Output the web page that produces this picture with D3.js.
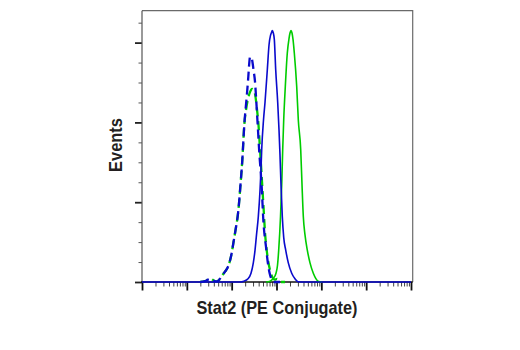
<!DOCTYPE html>
<html>
<head>
<meta charset="utf-8">
<script src="https://cdn.jsdelivr.net/npm/d3@7"></script>
<style>
  body { margin: 0; background: #fff; }
  svg { display: block; }
</style>
</head>
<body>
<svg id="chart" width="520" height="350"></svg>
<script>
// Axis settings
const xDomain = [1, 1e6];
const yDomain = [0, 340];
const yMajorTicks = [0, 100, 200, 300];
const yMinorTicks = [25, 50, 75, 125, 150, 175, 225, 250, 275, 325];
const xLabel = "Stat2 (PE Conjugate)";
const yLabel = "Events";

// Histograms: [fluorescence intensity, events]
// Isotype control, untreated (blue dashed)
const blueDashed = [
  [20, 0], [25.4, 1], [29.7, 3], [34.6, 4], [39.4, 2], [44.7, 0.6], [52.2, 2.5],
  [60.9, 8], [71, 13], [84.1, 20], [99.2, 35], [109.9, 50], [121.8, 65],
  [140.6, 89], [157.4, 122], [172.8, 153], [191.4, 197], [216.5, 232],
  [235, 257], [247.4, 275], [256.5, 282], [274.2, 282], [288.6, 277],
  [306.9, 266], [331.6, 251], [358.1, 222], [377, 201], [413.6, 162],
  [467.8, 119], [507.8, 78], [583.3, 44], [656.7, 20], [716.6, 9],
  [781.8, 3], [879.9, 0], [1197, 0]
];
// Isotype control, treated (green dashed)
const greenDashed = [
  [20, 0], [25.4, 1], [29.7, 3], [34.6, 4], [39.4, 2], [44.7, 0.6], [52.2, 2.5],
  [60.9, 8], [71, 13], [84.1, 20], [99.2, 35], [109.9, 50], [121.8, 65],
  [140.6, 89], [157.4, 122], [172.8, 153], [191.4, 197], [212.1, 218],
  [235, 231], [256.5, 238], [284.2, 242], [315, 240], [340.3, 232],
  [367.5, 216], [396.9, 197], [428.6, 166], [458.3, 141], [487.5, 115],
  [518.4, 90], [554.1, 62], [604.6, 40], [656.7, 25], [716.6, 15],
  [781.8, 8], [848.9, 4], [926.3, 3], [1026, 4], [1137, 2], [1260, 0], [1548, 0]
];
// Stat2, untreated (blue solid)
const blueSolid = [
  [1, 0], [150, 0], [188, 1], [231, 4], [270, 11], [304, 24], [332, 40],
  [358, 59], [393, 82], [429, 115], [451, 141], [468, 166], [513, 203],
  [554, 225], [624, 266], [681, 297], [735, 309], [766, 312], [806, 315],
  [849, 312], [894, 304], [960, 266], [1064, 225], [1137, 191], [1197, 159],
  [1260, 122], [1347, 82], [1448, 56], [1605, 40], [1834, 24], [2184, 11],
  [2587, 4], [3018, 0.4], [4323, 0], [1e6, 0]
];
// Stat2, treated (green solid)
const greenSolid = [
  [584, 0], [717, 1], [836, 4], [975, 11], [1053, 21], [1120, 40], [1229, 82],
  [1307, 122], [1376, 166], [1448, 203], [1572, 245], [1742, 287], [1901, 305],
  [2001, 312], [2107, 315], [2218, 312], [2335, 304], [2496, 287], [2823, 245],
  [3065, 203], [3467, 166], [3707, 122], [3963, 82], [4323, 59], [4866, 40],
  [5589, 24], [6622, 11], [7606, 4], [8431, 1], [10354, 0]
];

const BLUE = "#0a0acc";
const GREEN = "#00cc00";

const svg = d3.select("#chart");
const plot = { left: 142, right: 411, top: 10.7, bottom: 282 };

const x = d3.scaleLog().domain(xDomain).range([plot.left, plot.right]);
const y = d3.scaleLinear().domain(yDomain).range([plot.bottom, plot.top]);

// Frame: top and right edges
svg.append("path")
  .attr("d", `M${plot.left},${plot.top}H${plot.right + 1.7}V${plot.bottom}`)
  .attr("fill", "none").attr("stroke", "#6a6a6a").attr("stroke-width", 1.2);

// Y axis: minor then major ticks, no labels
const yMinor = svg.append("g").attr("transform", `translate(${plot.left},0)`)
  .call(d3.axisLeft(y).tickValues(yMinorTicks).tickSize(3.5).tickFormat(""));
yMinor.select(".domain").remove();
yMinor.selectAll(".tick line").attr("stroke", "#555").attr("stroke-width", 1);

const yMajor = svg.append("g").attr("transform", `translate(${plot.left},0)`)
  .call(d3.axisLeft(y).tickValues(yMajorTicks).tickSize(7).tickFormat(""));
yMajor.select(".domain").remove();
yMajor.selectAll(".tick line").attr("stroke", "#222").attr("stroke-width", 1.8);

svg.append("line")
  .attr("x1", plot.left).attr("x2", plot.left)
  .attr("y1", plot.top).attr("y2", plot.bottom)
  .attr("stroke", "#555").attr("stroke-width", 1.2);

// X axis: log decades with minor ticks 2..9
const xMajorTicks = d3.range(0, 7).map(p => Math.pow(10, p));
const xMinorTicks = [];
for (let p = 0; p < 6; p++) for (let k = 2; k <= 9; k++) xMinorTicks.push(k * Math.pow(10, p));

const xMinor = svg.append("g").attr("transform", `translate(0,${plot.bottom})`)
  .call(d3.axisBottom(x).tickValues(xMinorTicks).tickSize(4.5).tickFormat(""));
xMinor.select(".domain").remove();
xMinor.selectAll(".tick line").attr("stroke", "#444").attr("stroke-width", 1);

const xMajor = svg.append("g").attr("transform", `translate(0,${plot.bottom})`)
  .call(d3.axisBottom(x).tickValues(xMajorTicks).tickSize(8.5).tickFormat(""));
xMajor.select(".domain").remove();
xMajor.selectAll(".tick line").attr("stroke", "#111").attr("stroke-width", 1.8);

svg.append("line")
  .attr("x1", plot.left - 1).attr("x2", plot.right + 1.7)
  .attr("y1", plot.bottom).attr("y2", plot.bottom)
  .attr("stroke", "#111").attr("stroke-width", 1.6);

// Histogram outlines
const line = d3.line()
  .x(d => x(d[0]))
  .y(d => y(d[1]))
  .curve(d3.curveMonotoneX);

const series = [
  { data: greenDashed, color: GREEN, width: 2.3, dash: "9,5", offset: 1.5 },
  { data: blueDashed, color: BLUE, width: 2.3, dash: "9,5", offset: 0 },
  { data: greenSolid, color: GREEN, width: 1.6, dash: null, offset: 0 },
  { data: blueSolid, color: BLUE, width: 1.6, dash: null, offset: 0 }
];

svg.append("g").selectAll("path")
  .data(series)
  .join("path")
  .attr("d", d => line(d.data))
  .attr("fill", "none")
  .attr("stroke", d => d.color)
  .attr("stroke-width", d => d.width)
  .attr("stroke-dasharray", d => d.dash)
  .attr("stroke-dashoffset", d => d.offset)
  .attr("stroke-linejoin", "round");

// Axis titles
const labelFont = "'Liberation Sans Narrow', 'Arial Narrow', 'Liberation Sans', Arial, sans-serif";

svg.append("text")
  .attr("x", 277).attr("y", 314)
  .attr("text-anchor", "middle")
  .attr("font-family", labelFont)
  .attr("font-weight", "bold")
  .attr("font-size", 19)
  .attr("textLength", 161)
  .attr("lengthAdjust", "spacingAndGlyphs")
  .attr("fill", "#231f20")
  .text(xLabel);

svg.append("text")
  .attr("transform", "translate(122,145) rotate(-90)")
  .attr("text-anchor", "middle")
  .attr("font-family", labelFont)
  .attr("font-weight", "bold")
  .attr("font-size", 19)
  .attr("textLength", 54)
  .attr("lengthAdjust", "spacingAndGlyphs")
  .attr("fill", "#231f20")
  .text(yLabel);
</script>
</body>
</html>
